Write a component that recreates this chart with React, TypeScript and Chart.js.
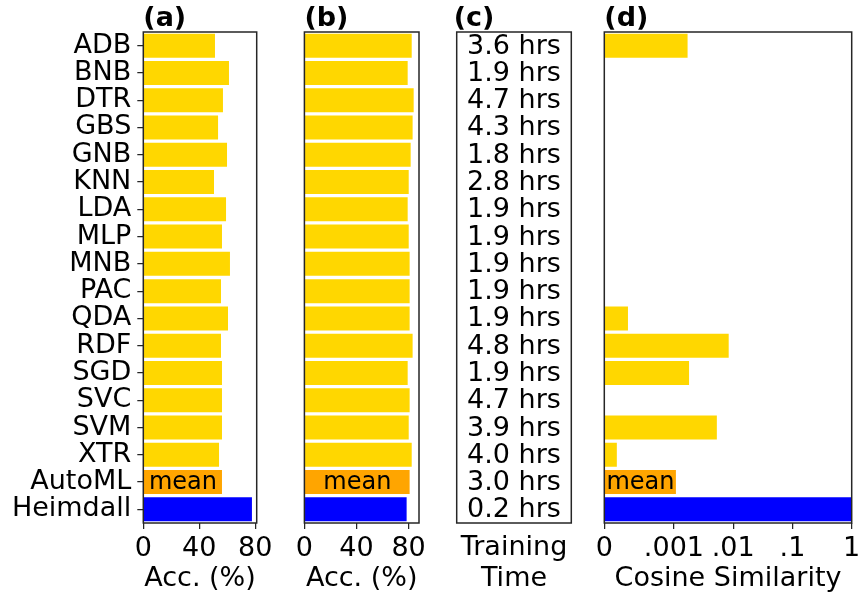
import React, { useEffect, useRef } from 'react';
import { Chart, registerables, LinearScale } from 'chart.js';

Chart.register(...registerables);

// ---------------- data ----------------
const categories = ['ADB', 'BNB', 'DTR', 'GBS', 'GNB', 'KNN', 'LDA', 'MLP', 'MNB', 'PAC', 'QDA', 'RDF', 'SGD', 'SVC', 'SVM', 'XTR', 'AutoML', 'Heimdall'];
const accA = [51.2, 61.2, 56.9, 53.4, 59.8, 50.5, 59.1, 56.2, 61.9, 55.5, 60.5, 55.5, 56.2, 56.2, 56.2, 54.1, 56.2, 77.6];
const accB = [82.4, 79.3, 83.9, 83.1, 81.6, 80.1, 79.3, 80.1, 80.8, 80.8, 80.8, 83.1, 79.3, 80.8, 80.1, 82.4, 80.8, 78.5];
const trainingHours = [3.6, 1.9, 4.7, 4.3, 1.8, 2.8, 1.9, 1.9, 1.9, 1.9, 1.9, 4.8, 1.9, 4.7, 3.9, 4.0, 3.0, 0.2];
const cosineSim = [0.0017, 0, 0, 0, 0, 0, 0, 0, 0, 0, 0.00034, 0.0084, 0.0018, 0, 0.0053, 0.00018, 0.00108, 1];
const accTicks = [0, 40, 80];
const cosTicks = [0, 0.001, 0.01, 0.1, 1];
const cosTickLabels = ['0', '.001', '.01', '.1', '1'];
const panelTitles = ['(a)', '(b)', '(c)', '(d)'];

// ---------------- styling ----------------
const FONT = '"DejaVu Sans", sans-serif';
const FS = 27;
const GOLD = '#FFD700';
const ORANGE = '#FFA500';
const BLUE = '#0000FF';
const SPINE = '#262626';
const barColor = (i: number) => (categories[i] === 'AutoML' ? ORANGE : categories[i] === 'Heimdall' ? BLUE : GOLD);

// symmetric-log style scale (linear below threshold, log above)
const LIN_T = 0.001;
const LIN_W = 1.175;
const symT = (v: number) => (v <= LIN_T ? (v / LIN_T) * LIN_W : LIN_W + Math.log10(v / LIN_T));
const symInv = (t: number) => (t <= LIN_W ? (t / LIN_W) * LIN_T : LIN_T * Math.pow(10, t - LIN_W));

class SymlogScale extends LinearScale {
  static id = 'symlog';
  static defaults = LinearScale.defaults;
  getPixelForValue(value: number) {
    const t0 = symT(this.min as number);
    const t1 = symT(this.max as number);
    return this.getPixelForDecimal((symT(value) - t0) / (t1 - t0));
  }
  getValueForPixel(pixel: number) {
    const t0 = symT(this.min as number);
    const t1 = symT(this.max as number);
    return symInv(t0 + this.getDecimalForPixel(pixel) * (t1 - t0));
  }
}
Chart.register(SymlogScale as any);

const decoPlugin = {
  id: 'panelDeco',
  afterDraw(chart: any, _args: any, opts: any) {
    const { ctx, chartArea: a } = chart;
    ctx.save();
    // frame
    ctx.strokeStyle = SPINE;
    ctx.lineWidth = 1.5;
    ctx.strokeRect(a.left, a.top, a.right - a.left, a.bottom - a.top);
    // title
    ctx.fillStyle = '#000';
    ctx.font = `bold ${FS}px ${FONT}`;
    ctx.textAlign = 'left';
    ctx.textBaseline = 'alphabetic';
    ctx.fillText(opts.title, a.left + (opts.titleDx || 0), 26.3);
    // mean label
    if (opts.meanLabel) {
      const meta = chart.getDatasetMeta(0);
      const idx = categories.indexOf('AutoML');
      const bar = meta.data[idx];
      if (bar) {
        ctx.font = `24px ${FONT}`;
        ctx.textAlign = 'center';
        ctx.textBaseline = 'middle';
        ctx.fillText('mean', (bar.x + bar.base) / 2, bar.y + 1);
      }
    }
    // training time texts
    if (opts.timeTexts) {
      const ys = chart.scales.y;
      ctx.font = `${FS}px ${FONT}`;
      ctx.textAlign = 'center';
      ctx.textBaseline = 'middle';
      const cx = (a.left + a.right) / 2;
      trainingHours.forEach((h, i) => {
        ctx.fillText(`${h.toFixed(1)} hrs`, cx, ys.getPixelForValue(i) + 1);
      });
    }
    ctx.restore();
  },
};

type PanelCfg = {
  left: number;
  width: number;
  padL: number;
  padR: number;
  showY: boolean;
  xType: string;
  xMax: number;
  values: (number | null)[];
  ticks: number[] | null;
  tickLabels: string[] | null;
  xTitle: string | string[];
  title: string;
  titleDx: number;
  mean: boolean;
  timeTexts: boolean;
};

const panels: PanelCfg[] = [
  { left: 0, width: 290, padL: 0.3, padR: 33.3, showY: true, xType: 'linear', xMax: 81, values: accA, ticks: accTicks, tickLabels: null, xTitle: 'Acc. (%)', title: panelTitles[0], titleDx: 0, mean: true, timeTexts: false },
  { left: 270, width: 180, padL: 34.4, padR: 31, showY: false, xType: 'linear', xMax: 88, values: accB, ticks: accTicks, tickLabels: null, xTitle: 'Acc. (%)', title: panelTitles[1], titleDx: 0, mean: true, timeTexts: false },
  { left: 430, width: 170, padL: 26.7, padR: 28.7, showY: false, xType: 'linear', xMax: 1, values: categories.map(() => null), ticks: null, tickLabels: null, xTitle: ['Training', 'Time'], title: panelTitles[2], titleDx: -3, mean: false, timeTexts: true },
  { left: 580, width: 300, padL: 24.3, padR: 28.3, showY: false, xType: 'symlog', xMax: 1, values: cosineSim, ticks: cosTicks, tickLabels: cosTickLabels, xTitle: 'Cosine Similarity', title: panelTitles[3], titleDx: 0, mean: true, timeTexts: false },
];

const HEIGHT = 594;

function Panel({ cfg }: { cfg: PanelCfg }) {
  const ref = useRef<HTMLCanvasElement | null>(null);
  useEffect(() => {
    if (!ref.current) return;
    const chart = new Chart(ref.current, {
      type: 'bar',
      data: {
        labels: categories,
        datasets: [
          {
            data: cfg.values as any,
            backgroundColor: categories.map((_, i) => barColor(i)),
            borderWidth: 0,
            barPercentage: 0.88,
            categoryPercentage: 1,
          },
        ],
      },
      plugins: [decoPlugin],
      options: {
        indexAxis: 'y',
        responsive: false,
        animation: false,
        devicePixelRatio: 1,
        layout: { padding: { left: cfg.padL, right: cfg.padR, top: 32, bottom: 0 } },
        plugins: {
          legend: { display: false },
          tooltip: { enabled: false },
          panelDeco: { title: cfg.title, titleDx: cfg.titleDx, meanLabel: cfg.mean, timeTexts: cfg.timeTexts },
        } as any,
        scales: {
          x: {
            type: cfg.xType as any,
            min: 0,
            max: cfg.xMax,
            afterBuildTicks: (s: any) => {
              if (cfg.ticks) s.ticks = cfg.ticks.map((v) => ({ value: v }));
            },
            afterFit: (s: any) => {
              s.height = HEIGHT - 523;
            },
            grid: {
              drawOnChartArea: false,
              drawTicks: !!cfg.ticks,
              tickLength: 6,
              color: SPINE,
              lineWidth: 1.25,
            },
            border: { display: false },
            ticks: {
              display: !!cfg.ticks,
              autoSkip: false,
              maxRotation: 0,
              minRotation: 0,
              padding: 4,
              color: '#000',
              font: { family: FONT, size: FS },
              callback: (v: any, i: number) => (cfg.tickLabels ? cfg.tickLabels[i] : String(v)),
            },
            title: {
              display: true,
              text: cfg.xTitle,
              color: '#000',
              font: { family: FONT, size: FS, lineHeight: 1.13 },
              padding: { top: 0, bottom: 0 },
            },
          } as any,
          y: {
            type: 'category',
            offset: true,
            display: cfg.showY,
            afterFit: (s: any) => {
              if (cfg.showY) s.width = 143;
            },
            grid: {
              drawOnChartArea: false,
              offset: false,
              drawTicks: true,
              tickLength: 6,
              color: SPINE,
              lineWidth: 1.25,
            },
            border: { display: false },
            ticks: {
              autoSkip: false,
              padding: 6,
              color: '#000',
              font: { family: FONT, size: FS },
            },
          } as any,
        },
      },
    });
    return () => chart.destroy();
  }, [cfg]);
  return (
    <canvas
      ref={ref}
      width={cfg.width}
      height={HEIGHT}
      style={{ position: 'absolute', left: cfg.left, top: 0, width: cfg.width, height: HEIGHT }}
    />
  );
}

export default function App() {
  return (
    <div style={{ position: 'fixed', left: 0, top: 0, width: 860, height: HEIGHT, overflow: 'hidden', background: '#fff' }}>
      {panels.map((p, i) => (
        <Panel key={i} cfg={p} />
      ))}
    </div>
  );
}
